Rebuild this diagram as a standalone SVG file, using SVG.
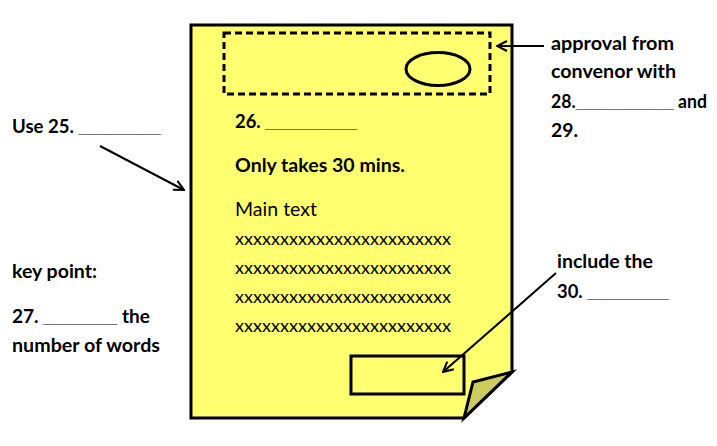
<svg xmlns="http://www.w3.org/2000/svg" width="717" height="446" viewBox="0 0 717 446">
<style>
text{font-family:Lato,"Open Sans","Liberation Sans",sans-serif;fill:#000}
.b{font-weight:bold;font-size:18px}
.r{font-size:19px}
.x{font-size:18px}
.u{font-family:"Liberation Sans",Arial,sans-serif}
.ln{stroke:#000;stroke-width:2;fill:none}
</style>
<defs>
<marker id="ah" viewBox="0 0 12 12" refX="11" refY="6" markerWidth="12" markerHeight="12" markerUnits="userSpaceOnUse" orient="auto">
<path d="M1,1 L11,6 L1,11" fill="none" stroke="#000" stroke-width="2"/>
</marker>
</defs>
<rect width="717" height="446" fill="#fff"/>
<g id="page">
<path d="M191,25 H512 V372 L464,418 H191 Z" fill="#ffff70" stroke="#000" stroke-width="3" stroke-linejoin="miter"/>
<path d="M464,418 L473,382 L512,372 Z" fill="#cccc5e" stroke="#000" stroke-width="3" stroke-linejoin="miter"/>
</g>
<g id="approval-box">
<rect x="224" y="33" width="266" height="61" fill="none" stroke="#000" stroke-width="3" stroke-dasharray="7,4"/>
<ellipse cx="438" cy="69" rx="32" ry="16.5" fill="none" stroke="#000" stroke-width="3"/>
</g>
<g id="signature-box">
<rect x="351" y="356" width="113" height="38" fill="none" stroke="#000" stroke-width="3"/>
</g>
<g id="page-text">
<text class="b" x="235" y="128" textLength="122" lengthAdjust="spacingAndGlyphs">26. <tspan class="u">_________</tspan></text>
<text class="b" x="235" y="172" textLength="170" lengthAdjust="spacingAndGlyphs">Only takes 30 mins.</text>
<text class="r" x="235" y="216" textLength="82" lengthAdjust="spacingAndGlyphs">Main text</text>
<text class="x" x="235" y="245" textLength="216" lengthAdjust="spacingAndGlyphs">xxxxxxxxxxxxxxxxxxxxxxxx</text>
<text class="x" x="235" y="274" textLength="216" lengthAdjust="spacingAndGlyphs">xxxxxxxxxxxxxxxxxxxxxxxx</text>
<text class="x" x="235" y="303" textLength="216" lengthAdjust="spacingAndGlyphs">xxxxxxxxxxxxxxxxxxxxxxxx</text>
<text class="x" x="235" y="332" textLength="216" lengthAdjust="spacingAndGlyphs">xxxxxxxxxxxxxxxxxxxxxxxx</text>
</g>
<g id="label-use">
<text class="b" x="12" y="133" textLength="149" lengthAdjust="spacingAndGlyphs">Use 25. <tspan class="u">________</tspan></text>
</g>
<g id="label-approval">
<text class="b" x="551" y="50" textLength="123" lengthAdjust="spacingAndGlyphs">approval from</text>
<text class="b" x="551" y="78" textLength="125" lengthAdjust="spacingAndGlyphs">convenor with</text>
<text class="b" x="551" y="108" textLength="156" lengthAdjust="spacingAndGlyphs">28.<tspan class="u">__________</tspan> and</text>
<text class="b" x="551" y="137" textLength="27" lengthAdjust="spacingAndGlyphs">29.</text>
</g>
<g id="label-key">
<text class="b" x="12" y="278" textLength="85" lengthAdjust="spacingAndGlyphs">key point:</text>
<text class="b" x="12" y="323" textLength="138" lengthAdjust="spacingAndGlyphs">27. <tspan class="u">_______</tspan>  the</text>
<text class="b" x="12" y="352" textLength="148" lengthAdjust="spacingAndGlyphs">number of words</text>
</g>
<g id="label-include">
<text class="b" x="557" y="268" textLength="96" lengthAdjust="spacingAndGlyphs">include the</text>
<text class="b" x="557" y="298" textLength="112" lengthAdjust="spacingAndGlyphs">30. <tspan class="u">________</tspan></text>
</g>
<g id="connectors">
<line class="ln" x1="100" y1="146" x2="184" y2="190" marker-end="url(#ah)"/>
<line class="ln" x1="544" y1="46" x2="497" y2="46" marker-end="url(#ah)"/>
<line class="ln" x1="556" y1="273" x2="443" y2="372" marker-end="url(#ah)"/>
</g>
</svg>
